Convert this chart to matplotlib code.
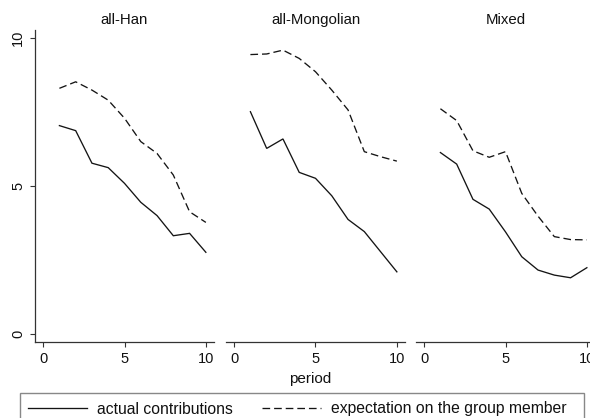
import matplotlib
matplotlib.use("Agg")
import matplotlib.pyplot as plt
from matplotlib.lines import Line2D
from matplotlib.patches import Rectangle

plt.rcParams['font.family'] = ['Liberation Sans', 'DejaVu Sans']

periods = [1, 2, 3, 4, 5, 6, 7, 8, 9, 10]
groups = ["all-Han", "all-Mongolian", "Mixed"]

actual_han = [7.04, 6.87, 5.77, 5.62, 5.09, 4.45, 4.00, 3.32, 3.40, 2.76]
expect_han = [8.30, 8.52, 8.24, 7.90, 7.29, 6.50, 6.10, 5.37, 4.13, 3.77]

actual_mongolian = [7.51, 6.27, 6.59, 5.46, 5.26, 4.67, 3.87, 3.46, 2.78, 2.10]
expect_mongolian = [9.44, 9.46, 9.59, 9.31, 8.86, 8.24, 7.57, 6.16, 5.99, 5.84]

actual_mixed = [6.13, 5.74, 4.55, 4.22, 3.45, 2.61, 2.16, 1.99, 1.90, 2.24]
expect_mixed = [7.61, 7.21, 6.19, 5.97, 6.16, 4.75, 3.98, 3.29, 3.19, 3.18]

actual = [actual_han, actual_mongolian, actual_mixed]
expect = [expect_han, expect_mongolian, expect_mixed]

W, H = 590, 418
fig = plt.figure(figsize=(W / 100, H / 100), dpi=100)

line_color = "#141414"
axis_color = "#333333"
dash_pattern = (5.8, 3.0)

lefts = [35, 226, 416]
panel_w = 179
top_px, bottom_px = 30, 342

for i, (name, a, e) in enumerate(zip(groups, actual, expect)):
    ax = fig.add_axes([lefts[i] / W, (H - bottom_px) / H,
                       panel_w / W, (bottom_px - top_px) / H])
    ax.plot(periods, a, color=line_color, lw=0.95, solid_joinstyle='miter')
    ax.plot(periods, e, color=line_color, lw=0.95, dashes=dash_pattern)
    ax.set_xlim(-0.5, 10.5)
    ax.set_ylim(-0.27, 10.27)
    ax.set_xticks([0, 5, 10])
    ax.set_yticks([0, 5, 10])
    for s in ["top", "right"]:
        ax.spines[s].set_visible(False)
    ax.spines["bottom"].set_color(axis_color)
    ax.spines["bottom"].set_linewidth(0.9)
    ax.tick_params(axis='x', length=3.6, width=0.8, color=axis_color,
                   labelsize=10.5, pad=3.5, labelcolor="#111111")
    if i == 0:
        ax.spines["left"].set_color(axis_color)
        ax.spines["left"].set_linewidth(0.9)
        ax.tick_params(axis='y', length=3.6, width=0.8, color=axis_color,
                       labelsize=10.5, pad=3.5, labelcolor="#111111")
        for lab in ax.get_yticklabels():
            lab.set_rotation(90)
            lab.set_va('center')
    else:
        ax.spines["left"].set_visible(False)
        ax.tick_params(axis='y', left=False, labelleft=False)
    ax.set_title(name, fontsize=10.8, pad=4.5, color="#111111")
    ax.set_facecolor("none")

fig.text(310 / W, 1 - 379 / H, "period", ha='center', va='center',
         fontsize=11, color="#111111")

# legend frame
fig.add_artist(Rectangle((20 / W, 1 - 430 / H), 564 / W, 37 / H,
                         transform=fig.transFigure, facecolor="white",
                         edgecolor="#888888", linewidth=1.0, zorder=1))

handles = [Line2D([], [], color=line_color, lw=0.95),
           Line2D([], [], color=line_color, lw=0.95, dashes=dash_pattern)]
leg = fig.legend(handles, ["actual contributions", "expectation on the group member"],
                 ncol=2, loc='center left',
                 bbox_to_anchor=(28 / W, 1 - 409 / H),
                 frameon=False, fontsize=11.3, handlelength=3.76,
                 handletextpad=0.64, columnspacing=1.85,
                 borderpad=0.0, borderaxespad=0.0)
leg.set_zorder(2)
for t in leg.get_texts():
    t.set_color("#111111")

fig.savefig("out.png", dpi=100)
